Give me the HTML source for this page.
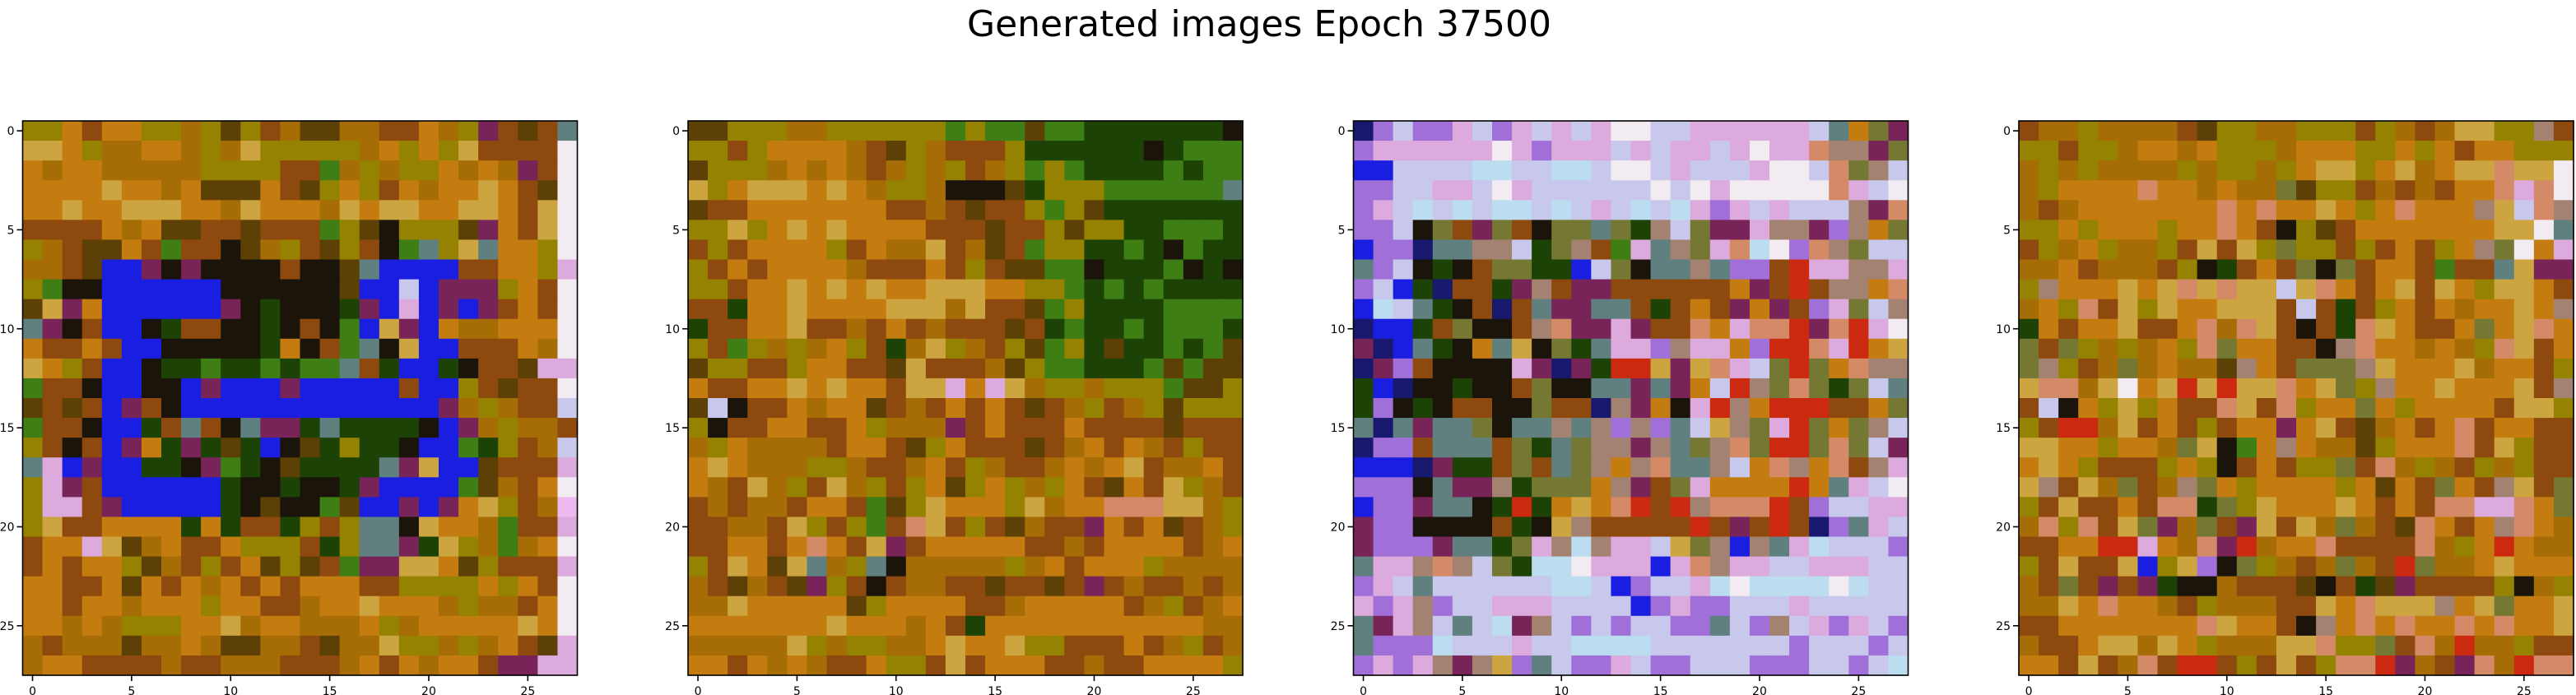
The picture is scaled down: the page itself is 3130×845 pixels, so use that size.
<!DOCTYPE html>
<html><head><meta charset="utf-8"><style>
html,body{margin:0;padding:0;background:#fff;}
svg{display:block;}
text{font-family:"DejaVu Sans","Liberation Sans",sans-serif;}
</style></head><body>
<svg id="fig" width="3130" height="845" viewBox="0 0 3130 845" xmlns="http://www.w3.org/2000/svg">
<rect width="3130" height="845" fill="#fff"/>
<text x="1530" y="44" font-size="44" text-anchor="middle" fill="#000">Generated images Epoch 37500</text>
</svg>
<script>
const palette = {O:'#c47c10',o:'#a66c06',y:'#948200',Y:'#cca440',r:'#8e4a0e',R:'#cc2a10',d:'#5c4006',k:'#1a140a',g:'#1c4206',G:'#3e7e14',b:'#1a1ee0',n:'#18186e',w:'#f2ecf2',p:'#dcaadc',l:'#c8c8ec',c:'#bcdcf0',v:'#a070d8',m:'#782458',t:'#608080',s:'#d48a66',B:'#a48272',x:'#747832',P:'#eeb8f0'};
const tickValues = [0,5,10,15,20,25];
const image1 = [
"yyOrOOyyoydyroddoorrOoymrdrt","YYOyooOOoyoYyyyyyoOyOyYrrrrw","OoOOoooooyyyyrrGoyoyyOoOomrw","OOOOYOOoOdddOrdyOyrOoOOYOrdw",
"OOYOOYYYOOoYOOOoYOYYOOYYOrYw","rrrrOoOddrrdrrrGydkyyydmOrYw","yorddOrGrrkdoyrdyrkGtyYtOOyw","oordbbmkmkkkkrkkdtbbbbrrOOyp",
"yGkkbbbbbbkkkkkkdbblbmmmyOrw","dYmObbbbbbmkgkkkgmbpbmbmrOrw","tmkrbbkgrrkkgkrkGbYmbOooOOOw","OrrOrbbkkkkkgOkrGtkYbbrrrOow",
"YOyrbbkggGggGgGGtrgbbgkrrdpp","Grrkbbkkbmbbbmbbbbbrbbyrdrrw","drdrbmrkbbbbbbbbbbbbbmoyorrl","Grrkbbgrtrktmmgtggggkbmoyoor",
"yrkrbmOgmgdgbkdgyggkbbGgyrol","tpbmbbggkmGgkdggggtmYbbdrrrp","ypmrbbbbbbgkkgkkgmbbbbGdorOw","ypprmbbbbbgkdkkGdbbmbmOYyroP",
"yYrrOOOOgOgrrgyryttkYOOoGrrp","rOOpYdoOrrOyyyrgyttmgYyoGoOw","rOrOOydoryrOdydrGmmYYOdyrrrp","OOrrOdOrOoOrOrOOOrryyyyOyOrw",
"OOrOOoOOOyOOrroOOYOOOoyoorOw","OOoOoyyyOOYoOOoooOyoOOOOOYOw","orooodooOoddoordooYyyoyoOrdp","oOOrrrrorrooorrroOrOoOOrmmpp"];
const image2 = [
"ddyyyooyyyyyyGyGGdGGgggggggk","yyryOOOOordyorrryggggggkgGGG","dyyyoOoOoroyoyroyGyGggggGgGG","YyOYYYOYOoyyokkkdgyyyGGGGGGt",
"drrOOOOOOOrrordrryGydgggggggg","yyYyOYOYOOOOrrrdrrydyyggGGGg","ryrOOOOyrOooYrodrGyyggGgkGgg","yrOrOOOOorrrOryrddGGkgggGkgk",
"yyrOOYOYOYOOYYYOOyyGgGgGgggg","rrgOOYOOOOYYYoYrrdGyggggGGGG","grrOOYrrorOrorrrdrgGggGgGGGg","yrGyoyoOyrgoYyorydGygdggGgGd",
"dyyrryOOrrdYrrrodyGGgggGdGdd","OrrOOYOYOOrYYpOpYoyyoyyyGddy","dlkrrOoOOdrorOrOrdroyroydyyy","ykrrOOrrOyooomrOrrrOrrrrdrrr",
"oyOoooorOOrdyOrrrdroOrOoryrr","OYOoooyyorroOryorroOoOYrooOr","OorYoyrYoyryOdyOyoyOrdOrYyor","roroorOOrGdyYOOOyYoOOsssYYoy",
"rroorYyryGrsYryrdorrmOrOdroy","rrOOrOsOrYmrOOOOOrrorOOOOroO","yrYOdYtoytkoooooyoOrOOOyoooo","ordordmyrkroorrdrrdrmrorroro",
"ooYOOOOOdyOOOOrroOOOOOroyroO","OOOOOOOYOOOoOrgOOOOOOOOOOOoo","oooooYyoyyooOYOOYyyrrrOroyro","OOrOoOorrOyyrYrOOOrrorrOOOOy"];
const image3 = [
"nvlvvplvplplpwwllppppppltOxm","vppppppwpvppplplpplpwppsBBmx","bbllllccllcclwwlplllpwwlsxBl","vvllpplwpllllllwlwpwwwwwsplw",
"vplclclcclclplclcpvplplllBms","vvlkxrmxrkxxtxgBlxmmpBBmvBOx","bvvnttBBlgxBrGptBxpscwvsBxll","tvlkgkrxxggblxkttBtvvrRppBBp",
"vlbgnrrgmBrmmrrrrrrOmrRrBBOs","bcltgkrnrtmmttrgrOrmOmrvpxlB","nbbgrxkkrBsmmpmrrsOpssRmsRpw","mnbtgkOtYkxgtppvBppOvRRspROY",
"nmvrkkkkpmnmgRRYmYsplxRxOsBB","gbnkkgkkrxkkttmtmOlRBxsxgxlt","gvkgkrrkkxrrnBmOkpRBORRRrrOx","tntmttxkttBtBvBvtlYBxpRxOxBl",
"nvvrtttrxgtxBBmBtxBsxRRxsxlm","bbbnmggrxrtxBOBsttBlOsBOsrBp","vvvktmmBgxxxOBmrxpOOOOROtplw","bvvmttkgRgOYOsRrRBsssRrvllpp",
"mvvkkkkrgkYBrrrrrRrmrRrnvtpl","mvvvmttgxpBcBpplYxBbBtpclllv","tppBsBlxgccwpppbpsBppllpppllv","vpltllllllcclbvllpcwccccwcll",
"pvpBvllpppllllbvpvvlllpllllll","tmpBltlcmBlvlvllvvtlvBlpvplv","tvvvclllpllcccclllllllvlllvl","vpvpBmBYvtlvvplvvlllvvvllvlc"];
const image4 = [
"rooyoooordyyooyyyryoroYYyyBr","yyryyoOOoOyyyoOOOyyOyOrOOyyy","oyoyooooyoyyoyOYYyOYoOYYsYYw","oyOOOOsOOoOooxdyyrororOOspsw",
"oroOOOOOOOsOsOOYOyOsOOOBYlsB","yyOyOOOyOOsOrkydrOOOOOOOYYwt","ryoOyooyrYrYyxyyryrOryOBxwOp","ooOrooorykgrOrxkxrOOrGrrtYmm",
"yBOOOYOYsYsYYlYsOrOYrYOyYYOr","oOysrYyYOOYYYrlrgryOrOoOOYOB","gOrOOYrrOsosYrkrgsYOrrOxOYsO","xrxyoyoOysxOOrrkBsOOoOoysYrO",
"xByroxoOoodBOrxxxBYOOOYoOOry","YssoYwOYRYRYYsOYxyBOOYOOOYrB","rlkOyYyOrrsYrsyOOxOyOOOOrYYy","yrRRoYrOryrOOmOYrdoOrOsrOOrr",
"YYOOyOOoxYkGOBOoodyOOOsrYyrr","OYOyrrryOykrOryyxrsoyoryoyrr","YBrYoxroBxOyOOOOyOdOrxOrBYrx","yrYrrOrssgxyYOOOYOrOrssppsOx",
"osysrYxmoxrmYrYoxordsOrOBsOo","rrOORRpOosmRoOOsrrrrsoyOROoo","yrYrrYbyYvkxyoroxorRxooOYOOO","orxrmrmgkkorrrdkrgdmrrrrykoy",
"ooYOsOOoryooorrYOsYYYBOYxOOY","rrOOOOOOOsYOOrkBOsOsOOsOsOOY","orrOYYoYOyoooYYsyyxrsoRooyrr","OOrYrosrRRryrYryssRmormsoRss"];
const images = [image1, image2, image3, image4];

const NS = 'http://www.w3.org/2000/svg';
const svg = document.getElementById('fig');
const panelX = [27.5, 836, 1644.5, 2453];
const top0 = 147, size = 674, N = 28, cell = size / N;
function xScale(px, i){ return px + i * cell; }
function yScale(j){ return top0 + j * cell; }
function mk(tag, attrs){ const e = document.createElementNS(NS, tag); for (const k in attrs) e.setAttribute(k, attrs[k]); return e; }

images.forEach((img, p) => {
  const g = mk('g', {});
  
  
  svg.appendChild(g);
  const px = panelX[p];
  for (let j = 0; j < N; j++) {
    let row = img[j] || img[img.length - 1];
    while (row.length < N) row += row[row.length - 1];
    for (let i = 0; i < N; i++) {
      const r = mk('rect', {x: xScale(px, i).toFixed(2), y: yScale(j).toFixed(2), width: (cell + 0.6).toFixed(2), height: (cell + 0.6).toFixed(2), fill: palette[row[i]] || '#a66c06'});
      
      
      g.appendChild(r);
    }
  }
  const frame = mk('rect', {x: px, y: top0, width: size, height: size, fill: 'none', stroke: '#000', 'stroke-width': 1.6});
  
  
  g.appendChild(frame);
  tickValues.forEach(v => {
    const cx = xScale(px, v) + cell / 2;
    const cy = yScale(v) + cell / 2;
    const tx = mk('line', {x1: cx, y1: top0 + size, x2: cx, y2: top0 + size + 7, stroke: '#000', 'stroke-width': 1.6});
    
    
    g.appendChild(tx);
    const lx = mk('text', {x: cx, y: top0 + size + 24, 'font-size': 14, 'text-anchor': 'middle', fill: '#000'});
    
    
    lx.textContent = v;
    g.appendChild(lx);
    const ty = mk('line', {x1: px - 7, y1: cy, x2: px, y2: cy, stroke: '#000', 'stroke-width': 1.6});
    
    
    g.appendChild(ty);
    const ly = mk('text', {x: px - 10, y: cy + 5, 'font-size': 14, 'text-anchor': 'end', fill: '#000'});
    
    
    ly.textContent = v;
    g.appendChild(ly);
  });
});
</script>
</body></html>
